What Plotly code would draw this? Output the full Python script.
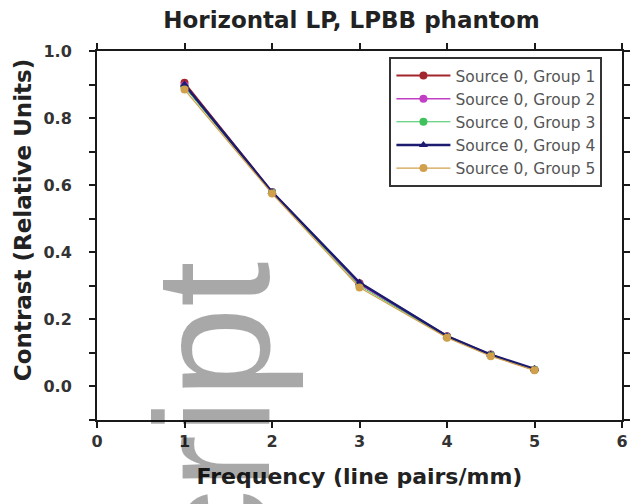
import plotly.graph_objects as go

# Spatial frequency of the bar groups (line pairs / mm)
freq = [1, 2, 3, 4, 4.5, 5]

# Measured contrast for each source / group combination
group1 = [0.905, 0.580, 0.308, 0.150, 0.095, 0.050]
group2 = [0.897, 0.580, 0.305, 0.148, 0.094, 0.050]
group3 = [0.892, 0.578, 0.300, 0.147, 0.093, 0.050]
group4 = [0.900, 0.580, 0.310, 0.150, 0.095, 0.052]
group5 = [0.885, 0.575, 0.295, 0.145, 0.090, 0.048]

series_names = [
    "Source 0, Group 1",
    "Source 0, Group 2",
    "Source 0, Group 3",
    "Source 0, Group 4",
    "Source 0, Group 5",
]
series_values = [group1, group2, group3, group4, group5]
series_colors = ["#a3262e", "#c13fc4", "#3fc25c", "#1b1b70", "#d1a04c"]
series_symbols = ["circle", "circle", "circle", "triangle-up", "circle"]
series_widths = [2, 1.5, 1, 2.4, 1.2]

x_ticks = [0, 1, 2, 3, 4, 5, 6]
y_ticks = [0.0, 0.2, 0.4, 0.6, 0.8, 1.0]

FONT = "DejaVu Sans"
DARK = "#1a1a1a"

fig = go.Figure()
for name, vals, col, sym, w in zip(series_names, series_values, series_colors,
                                   series_symbols, series_widths):
    fig.add_trace(go.Scatter(
        x=freq, y=vals, name=name, mode="lines+markers",
        line=dict(color=col, width=w),
        marker=dict(color=col, size=8, symbol=sym),
    ))

axis_common = dict(
    showline=True, linecolor=DARK, linewidth=2,
    mirror="ticks", ticks="outside", ticklen=6, tickwidth=1.5,
    tickcolor=DARK, showgrid=False, zeroline=False,
    tickfont=dict(family=FONT, size=16, color="#333333", weight="bold"),
)

fig.update_layout(
    width=639, height=504,
    margin=dict(l=97, r=9, t=51, b=84),
    paper_bgcolor="white", plot_bgcolor="white",
    title=dict(text="Horizontal LP, LPBB phantom", x=0.55, xanchor="center",
               y=0.961, yanchor="middle",
               font=dict(family=FONT, size=23, color="#222222", weight="bold")),
    xaxis=dict(range=[0, 6], tickvals=x_ticks, **axis_common,
               title=dict(text="Frequency (line pairs/mm)", standoff=18,
                          font=dict(family=FONT, size=22, color="#222222",
                                    weight="bold"))),
    yaxis=dict(range=[-0.1, 1.0], tickvals=y_ticks, tickformat=".1f",
               ticklabelstandoff=14,
               minor=dict(dtick=0.1, tick0=0, ticks="outside", ticklen=6,
                          tickwidth=1.5, tickcolor=DARK),
               **axis_common),
    legend=dict(x=0.557, y=0.984, xanchor="left", yanchor="top",
                bgcolor="white", bordercolor="#333333", borderwidth=2,
                font=dict(family=FONT, size=15.5, color="#555555"),
                itemwidth=54, tracegroupgap=0),
    showlegend=True,
)

# Vertical axis caption, set a little above the middle of the axis
fig.add_annotation(
    text="Contrast (Relative Units)", xref="paper", yref="paper",
    x=-0.1407, y=0.542, xanchor="center", yanchor="middle",
    textangle=-90, showarrow=False,
    font=dict(family=FONT, size=23, color="#222222", weight="bold"),
)

# Faint vertical watermark running up the lower left of the page
fig.add_annotation(
    text="Manuscript", xref="paper", yref="paper",
    x=0.2205, y=0.434, xanchor="center", yanchor="top",
    textangle=-90, showarrow=False,
    font=dict(family="Liberation Sans", size=164, color="rgba(0,0,0,0.34)"),
)

fig.write_html("out.html")
